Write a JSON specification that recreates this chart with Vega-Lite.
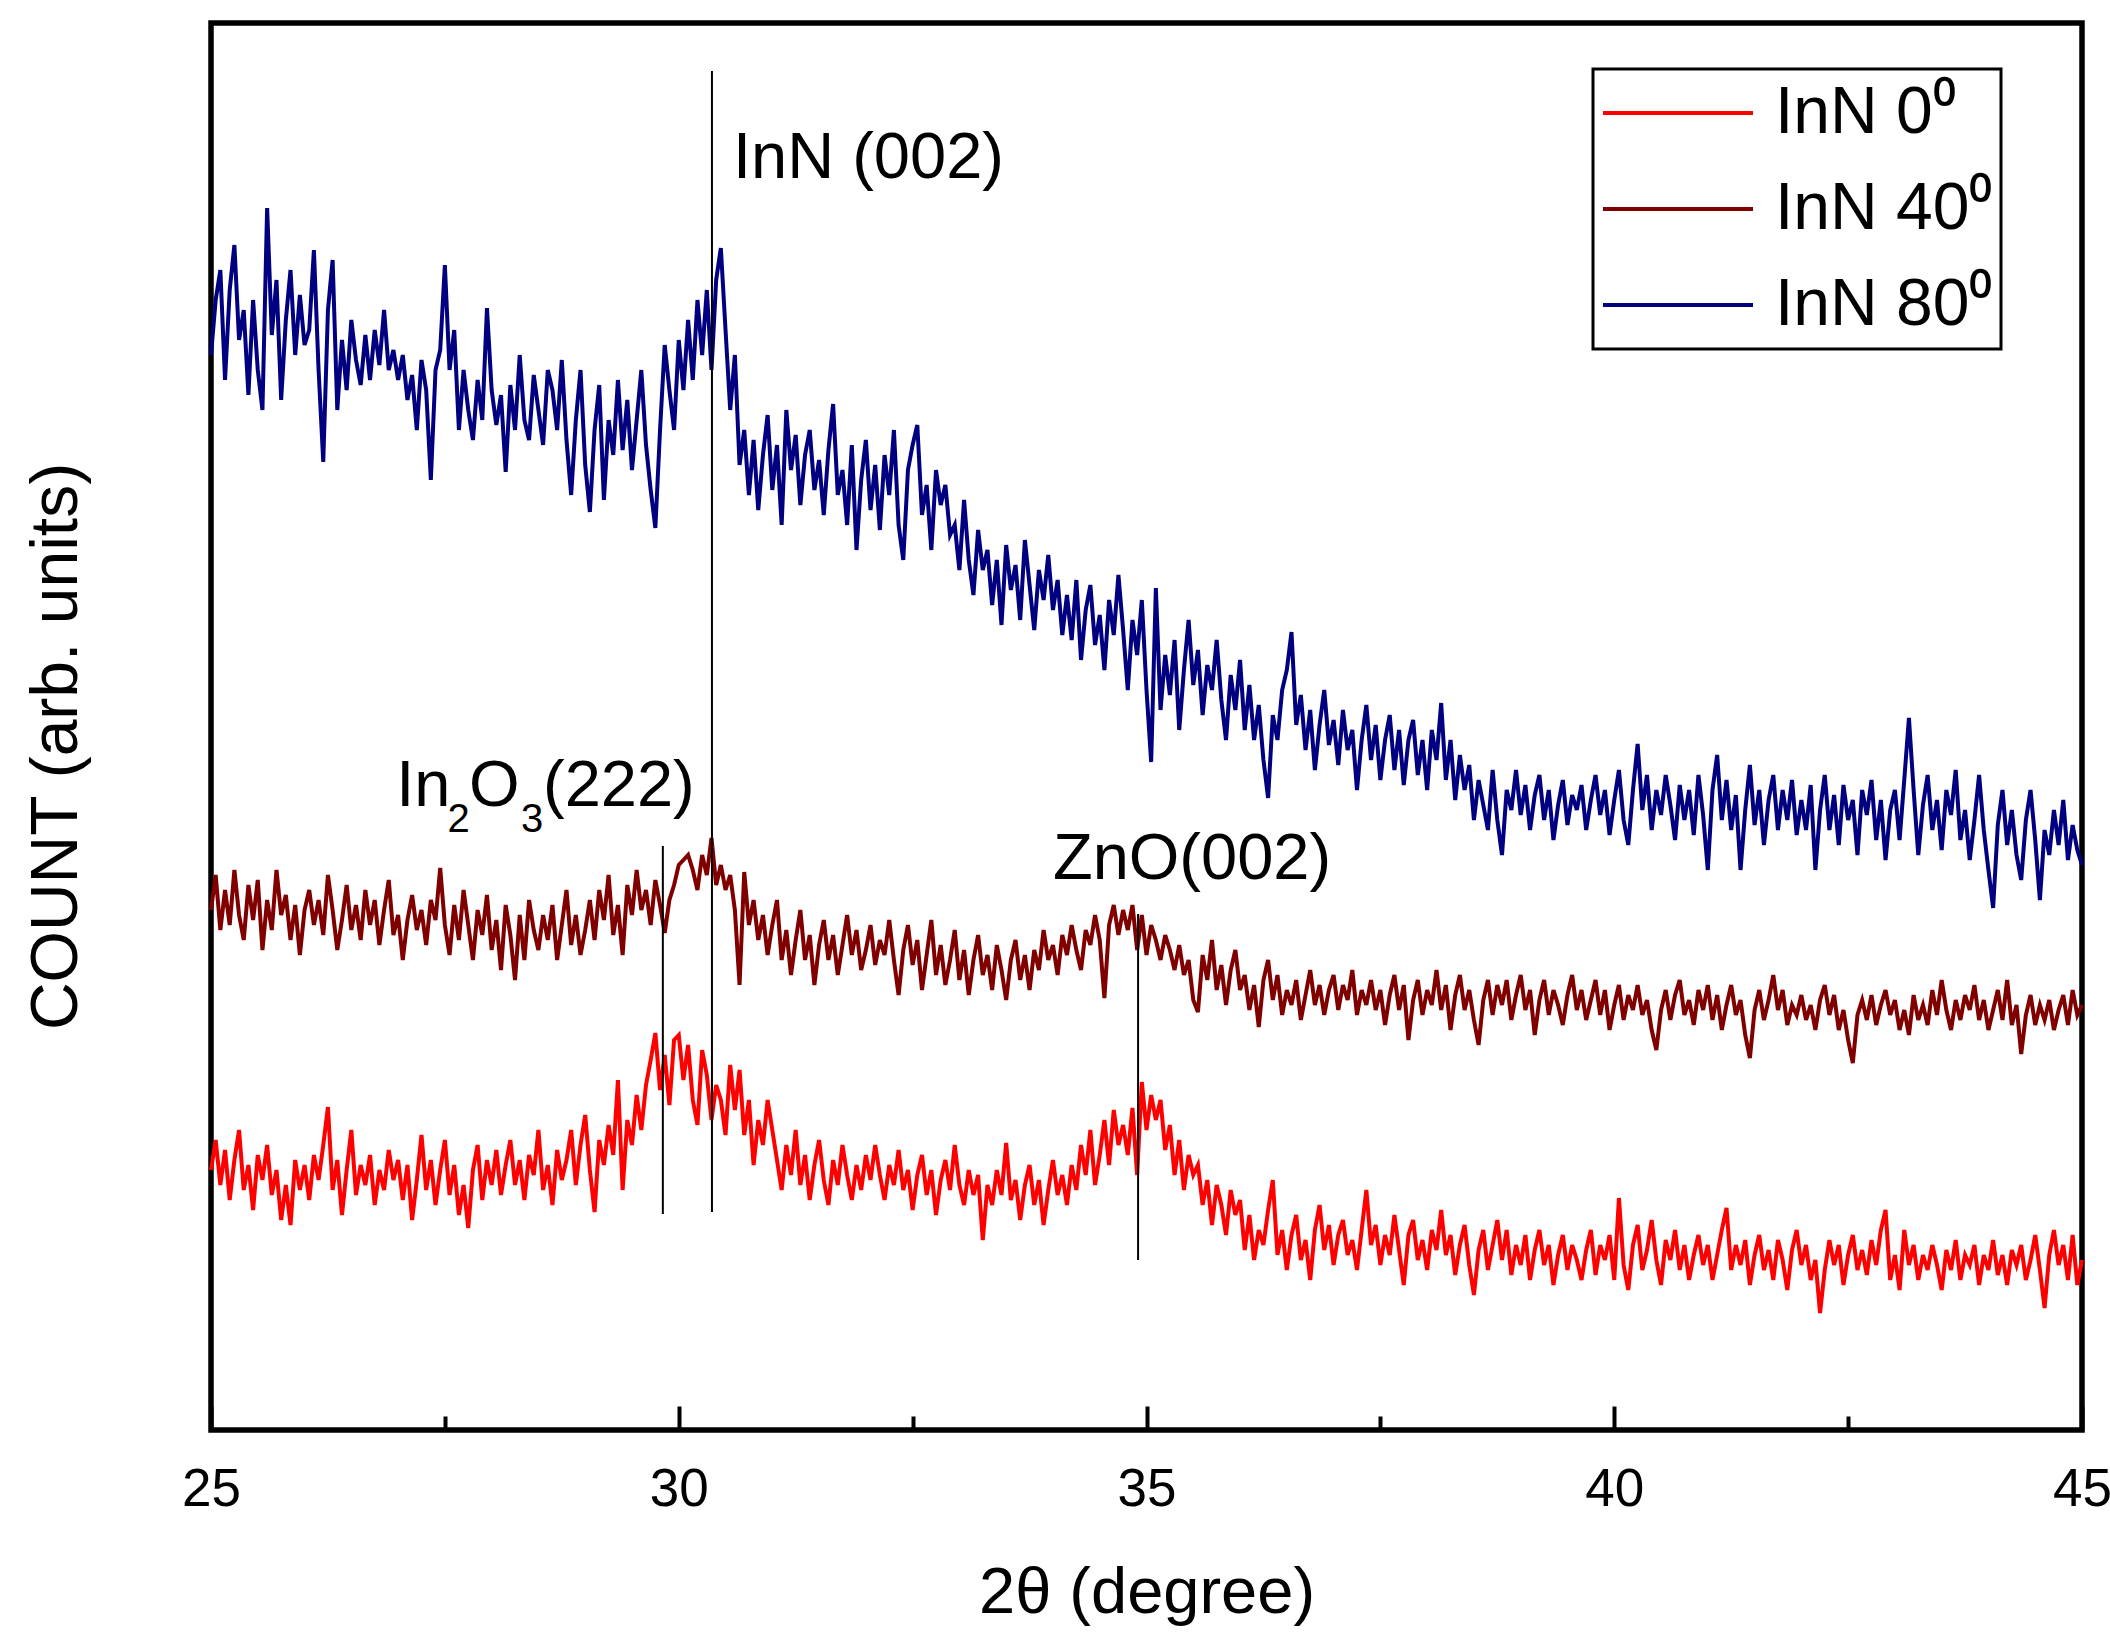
{
"$schema": "https://vega.github.io/schema/vega-lite/v6.json",
"width": 1871, "height": 1407,
"autosize": {"type": "none"},
"padding": {"left": 211, "top": 23, "right": 28, "bottom": 207},
"background": "white",
"config": {"view": {"stroke": "black", "strokeWidth": 5.5}, "font": "Liberation Sans"},
"datasets": {
"d80": [
{"x":25,"y":1075},{"x":25.05,"y":1130},{"x":25.1,"y":1160},{"x":25.15,"y":1050},{"x":25.2,"y":1140},{"x":25.25,"y":1185},{"x":25.3,"y":1090},{"x":25.35,"y":1120},{"x":25.4,"y":1035},{"x":25.45,"y":1130},{"x":25.5,"y":1060},{"x":25.55,"y":1020},{"x":25.6,"y":1222},{"x":25.65,"y":1095},{"x":25.7,"y":1150},{"x":25.75,"y":1030},{"x":25.8,"y":1110},{"x":25.85,"y":1160},{"x":25.9,"y":1075},{"x":25.95,"y":1135},{"x":26,"y":1085},
{"x":26.05,"y":1100},{"x":26.1,"y":1180},{"x":26.15,"y":1060},{"x":26.2,"y":968},{"x":26.25,"y":1120},{"x":26.3,"y":1170},{"x":26.35,"y":1020},{"x":26.4,"y":1090},{"x":26.45,"y":1040},{"x":26.5,"y":1110},{"x":26.55,"y":1070},{"x":26.6,"y":1045},{"x":26.65,"y":1095},{"x":26.7,"y":1050},{"x":26.75,"y":1100},{"x":26.8,"y":1065},{"x":26.85,"y":1120},{"x":26.9,"y":1060},{"x":26.95,"y":1080},{"x":27,"y":1050},
{"x":27.05,"y":1075},{"x":27.1,"y":1030},{"x":27.15,"y":1055},{"x":27.2,"y":1000},{"x":27.25,"y":1070},{"x":27.3,"y":1040},{"x":27.35,"y":950},{"x":27.4,"y":1060},{"x":27.45,"y":1080},{"x":27.5,"y":1165},{"x":27.55,"y":1060},{"x":27.6,"y":1100},
{"x":27.65,"y":1000},{"x":27.7,"y":1060},{"x":27.75,"y":1020},{"x":27.8,"y":990},{"x":27.85,"y":1050},{"x":27.9,"y":1010},{"x":27.95,"y":1122},{"x":28,"y":1040},{"x":28.05,"y":1005},{"x":28.1,"y":1035},{"x":28.15,"y":958},
{"x":28.2,"y":1045},{"x":28.25,"y":1000},{"x":28.3,"y":1075},{"x":28.35,"y":1010},{"x":28.4,"y":990},{"x":28.45,"y":1055},{"x":28.5,"y":1020},{"x":28.55,"y":985},{"x":28.6,"y":1060},{"x":28.65,"y":1040},{"x":28.7,"y":1000},{"x":28.75,"y":1070},{"x":28.8,"y":990},
{"x":28.85,"y":935},{"x":28.9,"y":1010},{"x":28.95,"y":1060},{"x":29,"y":965},{"x":29.05,"y":918},{"x":29.1,"y":1000},{"x":29.15,"y":1045},{"x":29.2,"y":930},{"x":29.25,"y":1010},{"x":29.3,"y":975},{"x":29.35,"y":1050},{"x":29.4,"y":980},
{"x":29.45,"y":1030},{"x":29.5,"y":960},{"x":29.55,"y":1010},{"x":29.6,"y":1060},{"x":29.65,"y":985},{"x":29.7,"y":940},{"x":29.75,"y":902},{"x":29.8,"y":1000},{"x":29.85,"y":1085},{"x":29.9,"y":1040},
{"x":29.95,"y":1000},{"x":30,"y":1090},{"x":30.05,"y":1040},{"x":30.1,"y":1110},{"x":30.15,"y":1050},{"x":30.2,"y":1130},{"x":30.25,"y":1075},{"x":30.3,"y":1140},{"x":30.35,"y":1060},
{"x":30.4,"y":1150},{"x":30.45,"y":1182},{"x":30.5,"y":1100},{"x":30.55,"y":1020},{"x":30.6,"y":1075},{"x":30.65,"y":965},{"x":30.7,"y":1000},{"x":30.75,"y":935},
{"x":30.8,"y":990},{"x":30.85,"y":920},{"x":30.9,"y":975},{"x":30.95,"y":1015},{"x":31,"y":940},{"x":31.05,"y":985},{"x":31.1,"y":905},{"x":31.15,"y":1020},{"x":31.2,"y":960},{"x":31.25,"y":995},{"x":31.3,"y":925},{"x":31.35,"y":975},{"x":31.4,"y":1000},{"x":31.45,"y":940},{"x":31.5,"y":970},
{"x":31.55,"y":915},{"x":31.6,"y":980},{"x":31.65,"y":1026},{"x":31.7,"y":935},{"x":31.75,"y":960},{"x":31.8,"y":905},{"x":31.85,"y":985},{"x":31.9,"y":880},{"x":31.95,"y":950},{"x":32,"y":990},{"x":32.05,"y":920},{"x":32.1,"y":965},{"x":32.15,"y":900},{"x":32.2,"y":975},{"x":32.25,"y":935},{"x":32.3,"y":1000},{"x":32.35,"y":905},{"x":32.4,"y":870},{"x":32.45,"y":960},{"x":32.5,"y":985},{"x":32.55,"y":1005},{"x":32.6,"y":915},{"x":32.65,"y":945},{"x":32.7,"y":880},{"x":32.75,"y":960},{"x":32.8,"y":925},{"x":32.85,"y":945},{"x":32.9,"y":895},
{"x":32.95,"y":905},{"x":33,"y":860},{"x":33.05,"y":930},{"x":33.1,"y":870},{"x":33.15,"y":835},{"x":33.2,"y":900},{"x":33.25,"y":860},{"x":33.3,"y":880},
{"x":33.35,"y":825},{"x":33.4,"y":870},{"x":33.45,"y":805},{"x":33.5,"y":885},{"x":33.55,"y":840},{"x":33.6,"y":865},{"x":33.65,"y":810},{"x":33.7,"y":890},{"x":33.75,"y":845},{"x":33.8,"y":800},{"x":33.85,"y":860},{"x":33.9,"y":830},{"x":33.95,"y":875},{"x":34,"y":820},{"x":34.05,"y":850},{"x":34.1,"y":795},
{"x":34.15,"y":835},{"x":34.2,"y":790},{"x":34.25,"y":850},{"x":34.3,"y":770},{"x":34.35,"y":820},{"x":34.4,"y":845},{"x":34.45,"y":785},{"x":34.5,"y":815},{"x":34.55,"y":760},{"x":34.6,"y":830},{"x":34.65,"y":795},{"x":34.7,"y":855},{"x":34.75,"y":800},{"x":34.8,"y":740},{"x":34.85,"y":810},{"x":34.9,"y":775},{"x":34.95,"y":830},
{"x":35,"y":740},{"x":35.05,"y":668},{"x":35.1,"y":842},{"x":35.15,"y":720},
{"x":35.2,"y":775},{"x":35.25,"y":735},{"x":35.3,"y":790},{"x":35.35,"y":700},{"x":35.4,"y":760},{"x":35.45,"y":810},{"x":35.5,"y":745},{"x":35.55,"y":780},{"x":35.6,"y":715},{"x":35.65,"y":765},{"x":35.7,"y":740},{"x":35.75,"y":790},{"x":35.8,"y":730},{"x":35.85,"y":690},{"x":35.9,"y":755},{"x":35.95,"y":720},{"x":36,"y":770},
{"x":36.05,"y":700},{"x":36.1,"y":745},{"x":36.15,"y":690},{"x":36.2,"y":725},{"x":36.25,"y":670},{"x":36.3,"y":632},{"x":36.35,"y":715},{"x":36.4,"y":690},{"x":36.45,"y":740},{"x":36.5,"y":760},{"x":36.55,"y":798},{"x":36.6,"y":705},{"x":36.65,"y":735},{"x":36.7,"y":680},{"x":36.75,"y":720},{"x":36.8,"y":660},{"x":36.85,"y":705},{"x":36.9,"y":740},{"x":36.95,"y":685},{"x":37,"y":710},
{"x":37.05,"y":665},{"x":37.1,"y":720},{"x":37.15,"y":680},{"x":37.2,"y":700},{"x":37.25,"y":640},{"x":37.3,"y":690},{"x":37.35,"y":725},{"x":37.4,"y":670},{"x":37.45,"y":705},{"x":37.5,"y":650},{"x":37.55,"y":690},{"x":37.6,"y":715},{"x":37.65,"y":660},{"x":37.7,"y":700},{"x":37.75,"y":645},{"x":37.8,"y":690},{"x":37.85,"y":710},{"x":37.9,"y":655},{"x":37.95,"y":690},{"x":38,"y":640},{"x":38.05,"y":700},{"x":38.1,"y":670},{"x":38.15,"y":727},{"x":38.2,"y":650},{"x":38.25,"y":690},{"x":38.3,"y":630},
{"x":38.35,"y":675},{"x":38.4,"y":640},{"x":38.45,"y":665},{"x":38.5,"y":610},{"x":38.55,"y":650},{"x":38.6,"y":625},{"x":38.65,"y":600},{"x":38.7,"y":660},{"x":38.75,"y":610},{"x":38.8,"y":575},{"x":38.85,"y":640},{"x":38.9,"y":620},{"x":38.95,"y":660},{"x":39,"y":615},{"x":39.05,"y":645},{"x":39.1,"y":600},{"x":39.15,"y":635},{"x":39.2,"y":655},{"x":39.25,"y":610},{"x":39.3,"y":640},{"x":39.35,"y":590},{"x":39.4,"y":625},{"x":39.45,"y":650},{"x":39.5,"y":605},{"x":39.55,"y":635},{"x":39.6,"y":620},
{"x":39.65,"y":645},{"x":39.7,"y":600},{"x":39.75,"y":630},{"x":39.8,"y":655},{"x":39.85,"y":615},{"x":39.9,"y":640},{"x":39.95,"y":595},{"x":40,"y":630},{"x":40.05,"y":660},{"x":40.1,"y":610},{"x":40.15,"y":585},{"x":40.2,"y":640},{"x":40.25,"y":686},{"x":40.3,"y":620},{"x":40.35,"y":655},{"x":40.4,"y":600},{"x":40.45,"y":640},{"x":40.5,"y":615},{"x":40.55,"y":655},{"x":40.6,"y":625},{"x":40.65,"y":590},{"x":40.7,"y":645},{"x":40.75,"y":610},{"x":40.8,"y":640},
{"x":40.85,"y":595},{"x":40.9,"y":655},{"x":40.95,"y":615},{"x":41,"y":560},{"x":41.05,"y":640},{"x":41.1,"y":675},{"x":41.15,"y":610},{"x":41.2,"y":650},{"x":41.25,"y":600},{"x":41.3,"y":635},{"x":41.35,"y":560},{"x":41.4,"y":620},{"x":41.45,"y":665},{"x":41.5,"y":605},{"x":41.55,"y":640},{"x":41.6,"y":585},{"x":41.65,"y":630},{"x":41.7,"y":655},{"x":41.75,"y":600},{"x":41.8,"y":640},{"x":41.85,"y":610},{"x":41.9,"y":650},{"x":41.95,"y":595},{"x":42,"y":630},
{"x":42.05,"y":600},{"x":42.1,"y":645},{"x":42.15,"y":560},{"x":42.2,"y":620},{"x":42.25,"y":655},{"x":42.3,"y":600},{"x":42.35,"y":635},{"x":42.4,"y":585},{"x":42.45,"y":645},{"x":42.5,"y":610},{"x":42.55,"y":630},{"x":42.6,"y":575},{"x":42.65,"y":640},{"x":42.7,"y":615},{"x":42.75,"y":650},{"x":42.8,"y":590},{"x":42.85,"y":630},{"x":42.9,"y":570},{"x":42.95,"y":620},
{"x":43,"y":640},{"x":43.05,"y":590},{"x":43.1,"y":650},{"x":43.15,"y":712},{"x":43.2,"y":640},{"x":43.25,"y":575},{"x":43.3,"y":625},
{"x":43.35,"y":655},{"x":43.4,"y":600},{"x":43.45,"y":630},{"x":43.5,"y":580},{"x":43.55,"y":640},{"x":43.6,"y":615},{"x":43.65,"y":660},{"x":43.7,"y":590},{"x":43.75,"y":620},{"x":43.8,"y":570},{"x":43.85,"y":610},{"x":43.9,"y":655},{"x":43.95,"y":600},{"x":44,"y":560},{"x":44.05,"y":522},{"x":44.1,"y":605},{"x":44.15,"y":640},
{"x":44.2,"y":585},{"x":44.25,"y":620},{"x":44.3,"y":575},{"x":44.35,"y":550},{"x":44.4,"y":610},{"x":44.45,"y":640},{"x":44.5,"y":590},{"x":44.55,"y":530},{"x":44.6,"y":600},{"x":44.65,"y":575},{"x":44.7,"y":620},{"x":44.75,"y":585},{"x":44.8,"y":630},{"x":44.85,"y":570},{"x":44.9,"y":605},{"x":44.95,"y":580},{"x":45,"y":565}
],
"d40": [
{"x":25,"y":520},{"x":25.05,"y":555},{"x":25.1,"y":500},{"x":25.15,"y":540},{"x":25.2,"y":505},{"x":25.25,"y":560},{"x":25.3,"y":515},{"x":25.35,"y":490},{"x":25.4,"y":545},{"x":25.45,"y":510},{"x":25.5,"y":550},{"x":25.55,"y":480},{"x":25.6,"y":530},{"x":25.65,"y":500},{"x":25.7,"y":560},{"x":25.75,"y":515},{"x":25.8,"y":535},{"x":25.85,"y":490},{"x":25.9,"y":525},{"x":25.95,"y":475},{"x":26,"y":520},
{"x":26.05,"y":540},{"x":26.1,"y":505},{"x":26.15,"y":530},{"x":26.2,"y":495},{"x":26.25,"y":555},{"x":26.3,"y":520},{"x":26.35,"y":480},{"x":26.4,"y":510},{"x":26.45,"y":545},{"x":26.5,"y":500},{"x":26.55,"y":525},{"x":26.6,"y":490},{"x":26.65,"y":540},{"x":26.7,"y":505},{"x":26.75,"y":530},{"x":26.8,"y":485},{"x":26.85,"y":520},{"x":26.9,"y":550},{"x":26.95,"y":495},{"x":27,"y":515},{"x":27.05,"y":470},{"x":27.1,"y":510},{"x":27.15,"y":535},{"x":27.2,"y":500},{"x":27.25,"y":520},{"x":27.3,"y":485},{"x":27.35,"y":530},{"x":27.4,"y":510},{"x":27.45,"y":562},{"x":27.5,"y":505},
{"x":27.55,"y":475},{"x":27.6,"y":525},{"x":27.65,"y":490},{"x":27.7,"y":540},{"x":27.75,"y":505},{"x":27.8,"y":470},{"x":27.85,"y":520},{"x":27.9,"y":495},{"x":27.95,"y":535},{"x":28,"y":480},{"x":28.05,"y":510},{"x":28.1,"y":460},{"x":28.15,"y":525},{"x":28.2,"y":495},{"x":28.25,"y":450},{"x":28.3,"y":515},{"x":28.35,"y":470},{"x":28.4,"y":530},{"x":28.45,"y":500},{"x":28.5,"y":480},{"x":28.55,"y":515},{"x":28.6,"y":490},{"x":28.65,"y":525},{"x":28.7,"y":470},{"x":28.75,"y":505},{"x":28.8,"y":540},{"x":28.85,"y":485},{"x":28.9,"y":515},{"x":28.95,"y":475},{"x":29,"y":500},
{"x":29.05,"y":530},{"x":29.1,"y":490},{"x":29.15,"y":540},{"x":29.2,"y":510},{"x":29.25,"y":555},{"x":29.3,"y":495},{"x":29.35,"y":525},{"x":29.4,"y":475},{"x":29.45,"y":545},{"x":29.5,"y":515},{"x":29.55,"y":560},{"x":29.6,"y":520},{"x":29.65,"y":540},{"x":29.7,"y":505},{"x":29.75,"y":550},{"x":29.8,"y":525},
{"x":29.85,"y":497},{"x":29.9,"y":530},{"x":29.95,"y":545},{"x":30,"y":565},{"x":30.05,"y":570},{"x":30.1,"y":575},{"x":30.15,"y":560},{"x":30.2,"y":540},{"x":30.25,"y":575},{"x":30.3,"y":555},{"x":30.35,"y":592},{"x":30.4,"y":545},{"x":30.45,"y":565},{"x":30.5,"y":540},
{"x":30.55,"y":555},{"x":30.6,"y":520},{"x":30.65,"y":445},{"x":30.7,"y":558},{"x":30.75,"y":505},{"x":30.8,"y":530},{"x":30.85,"y":490},{"x":30.9,"y":515},{"x":30.95,"y":475},{"x":31,"y":505},
{"x":31.05,"y":530},{"x":31.1,"y":470},{"x":31.15,"y":500},{"x":31.2,"y":455},{"x":31.25,"y":490},{"x":31.3,"y":520},{"x":31.35,"y":470},{"x":31.4,"y":495},{"x":31.45,"y":445},{"x":31.5,"y":485},{"x":31.55,"y":510},{"x":31.6,"y":470},{"x":31.65,"y":495},{"x":31.7,"y":455},{"x":31.75,"y":485},{"x":31.8,"y":515},{"x":31.85,"y":475},{"x":31.9,"y":500},{"x":31.95,"y":460},{"x":32,"y":480},{"x":32.05,"y":505},{"x":32.1,"y":465},{"x":32.15,"y":490},{"x":32.2,"y":475},{"x":32.25,"y":510},{"x":32.3,"y":470},
{"x":32.35,"y":435},{"x":32.4,"y":480},{"x":32.45,"y":505},{"x":32.5,"y":465},{"x":32.55,"y":490},{"x":32.6,"y":440},{"x":32.65,"y":475},{"x":32.7,"y":510},{"x":32.75,"y":455},{"x":32.8,"y":485},{"x":32.85,"y":445},{"x":32.9,"y":470},{"x":32.95,"y":500},{"x":33,"y":450},{"x":33.05,"y":480},{"x":33.1,"y":435},{"x":33.15,"y":470},{"x":33.2,"y":495},{"x":33.25,"y":455},{"x":33.3,"y":475},{"x":33.35,"y":440},{"x":33.4,"y":485},{"x":33.45,"y":460},{"x":33.5,"y":430},{"x":33.55,"y":470},{"x":33.6,"y":490},{"x":33.65,"y":450},{"x":33.7,"y":475},{"x":33.75,"y":440},{"x":33.8,"y":480},{"x":33.85,"y":460},{"x":33.9,"y":500},{"x":33.95,"y":470},{"x":34,"y":485},{"x":34.05,"y":455},{"x":34.1,"y":495},{"x":34.15,"y":475},{"x":34.2,"y":505},{"x":34.25,"y":480},{"x":34.3,"y":460},{"x":34.35,"y":500},{"x":34.4,"y":485},{"x":34.45,"y":515},{"x":34.5,"y":490},{"x":34.55,"y":432},{"x":34.6,"y":505},{"x":34.65,"y":525},{"x":34.7,"y":495},{"x":34.75,"y":520},{"x":34.8,"y":500},{"x":34.85,"y":525},
{"x":34.9,"y":480},{"x":34.95,"y":515},{"x":35,"y":475},{"x":35.05,"y":505},{"x":35.1,"y":490},{"x":35.15,"y":470},{"x":35.2,"y":495},{"x":35.25,"y":480},{"x":35.3,"y":460},
{"x":35.35,"y":485},{"x":35.4,"y":455},{"x":35.45,"y":470},{"x":35.5,"y":430},{"x":35.55,"y":418},{"x":35.6,"y":475},{"x":35.65,"y":450},{"x":35.7,"y":490},{"x":35.75,"y":440},{"x":35.8,"y":465},{"x":35.85,"y":425},{"x":35.9,"y":460},{"x":35.95,"y":480},{"x":36,"y":440},
{"x":36.05,"y":455},{"x":36.1,"y":420},{"x":36.15,"y":445},{"x":36.2,"y":403},{"x":36.25,"y":450},{"x":36.3,"y":470},{"x":36.35,"y":430},{"x":36.4,"y":455},{"x":36.45,"y":415},{"x":36.5,"y":440},{"x":36.55,"y":425},{"x":36.6,"y":450},{"x":36.65,"y":410},{"x":36.7,"y":435},{"x":36.75,"y":460},{"x":36.8,"y":425},{"x":36.85,"y":445},{"x":36.9,"y":415},{"x":36.95,"y":440},{"x":37,"y":455},{"x":37.05,"y":420},{"x":37.1,"y":445},{"x":37.15,"y":430},{"x":37.2,"y":460},{"x":37.25,"y":415},{"x":37.3,"y":440},{"x":37.35,"y":425},{"x":37.4,"y":450},{"x":37.45,"y":420},{"x":37.5,"y":440},{"x":37.55,"y":405},{"x":37.6,"y":435},{"x":37.65,"y":455},{"x":37.7,"y":420},{"x":37.75,"y":445},{"x":37.8,"y":390},{"x":37.85,"y":430},{"x":37.9,"y":450},{"x":37.95,"y":415},{"x":38,"y":440},{"x":38.05,"y":425},{"x":38.1,"y":460},{"x":38.15,"y":420},{"x":38.2,"y":445},{"x":38.25,"y":400},{"x":38.3,"y":435},{"x":38.35,"y":455},{"x":38.4,"y":420},{"x":38.45,"y":440},{"x":38.5,"y":410},{"x":38.55,"y":385},{"x":38.6,"y":430},{"x":38.65,"y":450},{"x":38.7,"y":415},{"x":38.75,"y":445},{"x":38.8,"y":425},
{"x":38.85,"y":450},{"x":38.9,"y":410},{"x":38.95,"y":435},{"x":39,"y":455},{"x":39.05,"y":420},{"x":39.1,"y":440},{"x":39.15,"y":395},{"x":39.2,"y":430},{"x":39.25,"y":450},{"x":39.3,"y":415},{"x":39.35,"y":440},{"x":39.4,"y":425},{"x":39.45,"y":405},{"x":39.5,"y":435},{"x":39.55,"y":455},{"x":39.6,"y":420},{"x":39.65,"y":440},{"x":39.7,"y":410},{"x":39.75,"y":430},{"x":39.8,"y":450},{"x":39.85,"y":415},{"x":39.9,"y":440},{"x":39.95,"y":400},{"x":40,"y":425},{"x":40.05,"y":445},{"x":40.1,"y":410},{"x":40.15,"y":435},{"x":40.2,"y":420},{"x":40.25,"y":445},{"x":40.3,"y":415},{"x":40.35,"y":430},{"x":40.4,"y":400},{"x":40.45,"y":380},{"x":40.5,"y":420},{"x":40.55,"y":440},{"x":40.6,"y":410},{"x":40.65,"y":435},{"x":40.7,"y":450},{"x":40.75,"y":415},{"x":40.8,"y":430},{"x":40.85,"y":405},{"x":40.9,"y":440},{"x":40.95,"y":420},{"x":41,"y":445},{"x":41.05,"y":410},{"x":41.1,"y":435},{"x":41.15,"y":400},{"x":41.2,"y":425},{"x":41.25,"y":445},{"x":41.3,"y":415},{"x":41.35,"y":430},{"x":41.4,"y":395},{"x":41.45,"y":372},{"x":41.5,"y":420},{"x":41.55,"y":440},{"x":41.6,"y":410},{"x":41.65,"y":430},{"x":41.7,"y":455},{"x":41.75,"y":420},{"x":41.8,"y":440},{"x":41.85,"y":405},{"x":41.9,"y":425},{"x":41.95,"y":415},{"x":42,"y":435},{"x":42.05,"y":410},{"x":42.1,"y":425},{"x":42.15,"y":400},{"x":42.2,"y":430},{"x":42.25,"y":445},{"x":42.3,"y":415},{"x":42.35,"y":435},{"x":42.4,"y":400},{"x":42.45,"y":420},{"x":42.5,"y":390},{"x":42.55,"y":367},{"x":42.6,"y":415},{"x":42.65,"y":430},{"x":42.7,"y":410},{"x":42.75,"y":435},{"x":42.8,"y":405},{"x":42.85,"y":425},{"x":42.9,"y":440},{"x":42.95,"y":415},{"x":43,"y":430},{"x":43.05,"y":400},{"x":43.1,"y":420},{"x":43.15,"y":395},{"x":43.2,"y":435},{"x":43.25,"y":410},{"x":43.3,"y":425},{"x":43.35,"y":405},{"x":43.4,"y":440},{"x":43.45,"y":415},{"x":43.5,"y":450},{"x":43.55,"y":420},{"x":43.6,"y":400},{"x":43.65,"y":430},{"x":43.7,"y":410},{"x":43.75,"y":435},{"x":43.8,"y":420},{"x":43.85,"y":445},{"x":43.9,"y":410},{"x":43.95,"y":430},{"x":44,"y":400},{"x":44.05,"y":420},{"x":44.1,"y":440},{"x":44.15,"y":410},{"x":44.2,"y":450},{"x":44.25,"y":405},{"x":44.3,"y":425},{"x":44.35,"y":376},{"x":44.4,"y":415},{"x":44.45,"y":435},{"x":44.5,"y":405},{"x":44.55,"y":425},{"x":44.6,"y":410},{"x":44.65,"y":430},{"x":44.7,"y":400},{"x":44.75,"y":420},{"x":44.8,"y":435},{"x":44.85,"y":405},{"x":44.9,"y":440},{"x":44.95,"y":415},{"x":45,"y":425}
],
"d0": [
{"x":25,"y":260},{"x":25.05,"y":290},{"x":25.1,"y":245},{"x":25.15,"y":280},{"x":25.2,"y":230},{"x":25.25,"y":270},{"x":25.3,"y":300},{"x":25.35,"y":240},{"x":25.4,"y":265},{"x":25.45,"y":220},{"x":25.5,"y":275},{"x":25.55,"y":250},{"x":25.6,"y":285},{"x":25.65,"y":235},{"x":25.7,"y":260},{"x":25.75,"y":210},{"x":25.8,"y":245},{"x":25.85,"y":205},{"x":25.9,"y":270},{"x":25.95,"y":240},{"x":26,"y":265},
{"x":26.05,"y":230},{"x":26.1,"y":275},{"x":26.15,"y":250},{"x":26.2,"y":285},{"x":26.25,"y":323},{"x":26.3,"y":240},{"x":26.35,"y":270},{"x":26.4,"y":215},{"x":26.45,"y":260},{"x":26.5,"y":300},{"x":26.55,"y":235},{"x":26.6,"y":265},{"x":26.65,"y":245},{"x":26.7,"y":275},{"x":26.75,"y":225},{"x":26.8,"y":260},{"x":26.85,"y":240},{"x":26.9,"y":280},{"x":26.95,"y":250},{"x":27,"y":270},
{"x":27.05,"y":230},{"x":27.1,"y":265},{"x":27.15,"y":210},{"x":27.2,"y":250},{"x":27.25,"y":295},{"x":27.3,"y":240},{"x":27.35,"y":270},{"x":27.4,"y":225},{"x":27.45,"y":260},{"x":27.5,"y":290},{"x":27.55,"y":235},{"x":27.6,"y":265},{"x":27.65,"y":215},{"x":27.7,"y":245},{"x":27.75,"y":202},{"x":27.8,"y":260},{"x":27.85,"y":285},{"x":27.9,"y":230},{"x":27.95,"y":270},{"x":28,"y":245},
{"x":28.05,"y":280},{"x":28.1,"y":235},{"x":28.15,"y":265},{"x":28.2,"y":290},{"x":28.25,"y":245},{"x":28.3,"y":270},{"x":28.35,"y":230},{"x":28.4,"y":275},{"x":28.45,"y":255},{"x":28.5,"y":300},{"x":28.55,"y":240},{"x":28.6,"y":265},{"x":28.65,"y":225},{"x":28.7,"y":280},{"x":28.75,"y":250},{"x":28.8,"y":270},
{"x":28.85,"y":300},{"x":28.9,"y":245},{"x":28.95,"y":285},{"x":29,"y":315},{"x":29.05,"y":260},{"x":29.1,"y":218},{"x":29.15,"y":290},{"x":29.2,"y":265},{"x":29.25,"y":305},{"x":29.3,"y":275},
{"x":29.35,"y":350},{"x":29.4,"y":240},{"x":29.45,"y":310},{"x":29.5,"y":285},{"x":29.55,"y":335},{"x":29.6,"y":300},
{"x":29.65,"y":345},{"x":29.7,"y":370},{"x":29.75,"y":397},{"x":29.8,"y":340},{"x":29.85,"y":375},{"x":29.9,"y":325},{"x":29.95,"y":390},{"x":30,"y":395},{"x":30.05,"y":350},{"x":30.1,"y":385},{"x":30.15,"y":330},{"x":30.2,"y":305},{"x":30.25,"y":380},{"x":30.3,"y":355},
{"x":30.35,"y":310},{"x":30.4,"y":345},{"x":30.45,"y":330},{"x":30.5,"y":295},{"x":30.55,"y":365},{"x":30.6,"y":320},
{"x":30.65,"y":360},{"x":30.7,"y":295},{"x":30.75,"y":330},{"x":30.8,"y":265},{"x":30.85,"y":310},{"x":30.9,"y":285},{"x":30.95,"y":330},{"x":31,"y":300},
{"x":31.05,"y":270},{"x":31.1,"y":240},{"x":31.15,"y":285},{"x":31.2,"y":255},{"x":31.25,"y":300},{"x":31.3,"y":245},{"x":31.35,"y":275},{"x":31.4,"y":230},{"x":31.45,"y":265},{"x":31.5,"y":290},{"x":31.55,"y":250},{"x":31.6,"y":225},{"x":31.65,"y":270},{"x":31.7,"y":245},{"x":31.75,"y":285},{"x":31.8,"y":255},{"x":31.85,"y":230},{"x":31.9,"y":265},{"x":31.95,"y":240},{"x":32,"y":275},{"x":32.05,"y":250},{"x":32.1,"y":285},{"x":32.15,"y":255},
{"x":32.2,"y":230},{"x":32.25,"y":265},{"x":32.3,"y":245},{"x":32.35,"y":280},{"x":32.4,"y":240},{"x":32.45,"y":260},{"x":32.5,"y":220},{"x":32.55,"y":255},{"x":32.6,"y":275},{"x":32.65,"y":235},{"x":32.7,"y":260},{"x":32.75,"y":215},{"x":32.8,"y":250},{"x":32.85,"y":270},{"x":32.9,"y":240},{"x":32.95,"y":285},{"x":33,"y":245},{"x":33.05,"y":225},{"x":33.1,"y":260},{"x":33.15,"y":235},{"x":33.2,"y":255},
{"x":33.25,"y":190},{"x":33.3,"y":245},{"x":33.35,"y":225},{"x":33.4,"y":260},{"x":33.45,"y":235},{"x":33.5,"y":287},{"x":33.55,"y":230},{"x":33.6,"y":250},{"x":33.65,"y":210},{"x":33.7,"y":245},{"x":33.75,"y":265},{"x":33.8,"y":225},{"x":33.85,"y":250},{"x":33.9,"y":205},{"x":33.95,"y":240},{"x":34,"y":270},{"x":34.05,"y":235},{"x":34.1,"y":255},{"x":34.15,"y":225},{"x":34.2,"y":265},
{"x":34.25,"y":240},{"x":34.3,"y":285},{"x":34.35,"y":255},{"x":34.4,"y":300},{"x":34.45,"y":245},{"x":34.5,"y":275},{"x":34.55,"y":310},{"x":34.6,"y":265},
{"x":34.65,"y":320},{"x":34.7,"y":285},{"x":34.75,"y":305},{"x":34.8,"y":275},{"x":34.85,"y":322},{"x":34.9,"y":255},
{"x":34.95,"y":348},{"x":35,"y":300},{"x":35.05,"y":335},{"x":35.1,"y":310},{"x":35.15,"y":330},{"x":35.2,"y":280},
{"x":35.25,"y":305},{"x":35.3,"y":255},{"x":35.35,"y":290},{"x":35.4,"y":240},{"x":35.45,"y":275},{"x":35.5,"y":255},
{"x":35.55,"y":265},{"x":35.6,"y":225},{"x":35.65,"y":250},{"x":35.7,"y":205},{"x":35.75,"y":245},{"x":35.8,"y":225},{"x":35.85,"y":195},{"x":35.9,"y":240},{"x":35.95,"y":215},{"x":36,"y":230},
{"x":36.05,"y":180},{"x":36.1,"y":215},{"x":36.15,"y":170},{"x":36.2,"y":200},{"x":36.25,"y":185},{"x":36.3,"y":220},{"x":36.35,"y":250},{"x":36.4,"y":175},{"x":36.45,"y":200},{"x":36.5,"y":160},{"x":36.55,"y":195},{"x":36.6,"y":215},{"x":36.65,"y":170},{"x":36.7,"y":190},{"x":36.75,"y":150},{"x":36.8,"y":200},{"x":36.85,"y":225},{"x":36.9,"y":180},{"x":36.95,"y":205},{"x":37,"y":165},{"x":37.05,"y":195},{"x":37.1,"y":210},{"x":37.15,"y":175},{"x":37.2,"y":190},{"x":37.25,"y":160},{"x":37.3,"y":200},{"x":37.35,"y":240},{"x":37.4,"y":185},{"x":37.45,"y":205},{"x":37.5,"y":165},{"x":37.55,"y":195},{"x":37.6,"y":175},{"x":37.65,"y":215},{"x":37.7,"y":180},{"x":37.75,"y":145},{"x":37.8,"y":195},{"x":37.85,"y":210},{"x":37.9,"y":170},{"x":37.95,"y":190},{"x":38,"y":160},{"x":38.05,"y":200},{"x":38.1,"y":180},{"x":38.15,"y":220},{"x":38.2,"y":175},{"x":38.25,"y":195},{"x":38.3,"y":155},{"x":38.35,"y":185},{"x":38.4,"y":205},{"x":38.45,"y":165},{"x":38.5,"y":135},{"x":38.55,"y":180},{"x":38.6,"y":200},{"x":38.65,"y":160},{"x":38.7,"y":185},{"x":38.75,"y":210},{"x":38.8,"y":170},
{"x":38.85,"y":200},{"x":38.9,"y":155},{"x":38.95,"y":185},{"x":39,"y":165},{"x":39.05,"y":195},{"x":39.1,"y":150},{"x":39.15,"y":180},{"x":39.2,"y":200},{"x":39.25,"y":165},{"x":39.3,"y":185},{"x":39.35,"y":145},{"x":39.4,"y":175},{"x":39.45,"y":195},{"x":39.5,"y":160},{"x":39.55,"y":185},{"x":39.6,"y":170},{"x":39.65,"y":150},{"x":39.7,"y":180},{"x":39.75,"y":200},{"x":39.8,"y":155},{"x":39.85,"y":185},{"x":39.9,"y":170},{"x":39.95,"y":195},{"x":40,"y":150},{"x":40.05,"y":232},{"x":40.1,"y":165},{"x":40.15,"y":140},{"x":40.2,"y":185},{"x":40.25,"y":205},{"x":40.3,"y":160},{"x":40.35,"y":180},{"x":40.4,"y":210},{"x":40.45,"y":170},{"x":40.5,"y":145},{"x":40.55,"y":190},{"x":40.6,"y":170},{"x":40.65,"y":200},{"x":40.7,"y":160},{"x":40.75,"y":185},{"x":40.8,"y":150},{"x":40.85,"y":175},{"x":40.9,"y":195},{"x":40.95,"y":165},{"x":41,"y":185},{"x":41.05,"y":150},{"x":41.1,"y":175},{"x":41.15,"y":200},{"x":41.2,"y":222},{"x":41.25,"y":160},{"x":41.3,"y":185},{"x":41.35,"y":165},{"x":41.4,"y":190},{"x":41.45,"y":145},{"x":41.5,"y":175},{"x":41.55,"y":195},{"x":41.6,"y":160},{"x":41.65,"y":180},{"x":41.7,"y":150},{"x":41.75,"y":190},{"x":41.8,"y":170},{"x":41.85,"y":140},{"x":41.9,"y":180},{"x":41.95,"y":200},{"x":42,"y":165},{"x":42.05,"y":185},{"x":42.1,"y":150},{"x":42.15,"y":170},{"x":42.2,"y":117},{"x":42.25,"y":160},{"x":42.3,"y":190},{"x":42.35,"y":165},{"x":42.4,"y":185},{"x":42.45,"y":145},{"x":42.5,"y":175},{"x":42.55,"y":195},{"x":42.6,"y":160},{"x":42.65,"y":180},{"x":42.7,"y":155},{"x":42.75,"y":190},{"x":42.8,"y":165},{"x":42.85,"y":200},{"x":42.9,"y":220},{"x":42.95,"y":150},{"x":43,"y":175},{"x":43.05,"y":140},{"x":43.1,"y":200},{"x":43.15,"y":165},{"x":43.2,"y":185},{"x":43.25,"y":150},{"x":43.3,"y":175},{"x":43.35,"y":160},{"x":43.4,"y":185},{"x":43.45,"y":165},{"x":43.5,"y":140},{"x":43.55,"y":180},{"x":43.6,"y":160},{"x":43.65,"y":190},{"x":43.7,"y":150},{"x":43.75,"y":175},{"x":43.8,"y":165},{"x":43.85,"y":185},{"x":43.9,"y":145},{"x":43.95,"y":175},{"x":44,"y":160},{"x":44.05,"y":190},{"x":44.1,"y":155},{"x":44.15,"y":175},{"x":44.2,"y":145},{"x":44.25,"y":180},{"x":44.3,"y":165},{"x":44.35,"y":185},{"x":44.4,"y":150},{"x":44.45,"y":170},{"x":44.5,"y":195},{"x":44.55,"y":160},{"x":44.6,"y":122},{"x":44.65,"y":175},{"x":44.7,"y":200},{"x":44.75,"y":165},{"x":44.8,"y":185},{"x":44.85,"y":150},{"x":44.9,"y":195},{"x":44.95,"y":145},{"x":45,"y":170}
],
"peaks": [
{"x":30.355,"y":1359,"y2":218},
{"x":29.83,"y":584,"y2":216},
{"x":34.91,"y":516,"y2":170}
],
"labels": [
{"t":"InN (002)","x":30.58,"y":1252},
{"t":"ZnO(002)","x":34.0,"y":551},
{"t":"In","x":26.98,"y":624},
{"t":"O","x":27.758,"y":624},
{"t":"(222)","x":28.549,"y":624}
],
"subs": [
{"t":"2","x":27.527,"y":598},
{"t":"3","x":28.314,"y":598}
]
},
"encoding": {
"x": {"field": "x", "type": "quantitative",
 "scale": {"domain": [25, 45], "nice": false, "zero": false},
 "axis": {"title": "2θ (degree)", "values": [25, 27.5, 30, 32.5, 35, 37.5, 40, 42.5, 45],
  "domain": false, "grid": false, "ticks": true, "tickColor": "black", "tickWidth": 4,
  "tickSize": {"condition": {"test": "datum.value % 5 === 0", "value": -24}, "value": -14},
  "labelExpr": "datum.value % 5 === 0 ? datum.label : ''",
  "labelFontSize": 53, "labelColor": "black", "labelFont": "Liberation Sans", "labelPadding": 57,
  "labelFlush": false, "labelOverlap": false, "labelBound": false,
  "titleFontSize": 65, "titleFontWeight": "normal", "titleColor": "black", "titleFont": "Liberation Sans",
  "titleBaseline": "alphabetic", "titleY": 182}},
"y": {"field": "y", "type": "quantitative",
 "scale": {"domain": [0, 1407], "nice": false, "zero": false},
 "axis": {"title": "COUNT (arb. units)", "ticks": false, "labels": false, "domain": false, "grid": false,
  "titleFontSize": 66, "titleFontWeight": "normal", "titleColor": "black", "titleFont": "Liberation Sans",
  "titleX": -135, "titleY": 723, "titleBaseline": "alphabetic", "titleAlign": "center", "titleAngle": 270}}
},
"layer": [
{"data": {"name": "d0"}, "mark": {"type": "line", "strokeWidth": 4},
 "encoding": {"color": {"datum": "0", "type": "nominal",
  "scale": {"domain": ["0", "40", "80"], "range": ["#ff0000", "#800000", "#000080"]},
  "legend": {"orient": "none", "legendX": 1382, "legendY": 46, "title": null,
   "symbolType": "stroke", "symbolSize": 22500, "symbolStrokeWidth": 4, "clipHeight": 72,
   "rowPadding": 24, "padding": 8, "symbolOffset": 0, "labelOffset": 20,
   "labelFontSize": 66, "labelFont": "Liberation Sans", "labelColor": "black", "labelLimit": 500,
   "strokeColor": "black", "fillColor": "white",
   "encode": {"legend": {"update": {"strokeWidth": {"value": 3}}}},
   "labelExpr": "'InN ' + datum.label + '⁰'"}}}},
{"data": {"name": "d40"}, "mark": {"type": "line", "strokeWidth": 4},
 "encoding": {"color": {"datum": "40", "type": "nominal"}}},
{"data": {"name": "d80"}, "mark": {"type": "line", "strokeWidth": 4},
 "encoding": {"color": {"datum": "80", "type": "nominal"}}},
{"data": {"name": "peaks"}, "mark": {"type": "rule", "color": "black", "strokeWidth": 2},
 "encoding": {"y2": {"field": "y2"}}},
{"data": {"name": "labels"}, "mark": {"type": "text", "fontSize": 65, "align": "left", "baseline": "alphabetic", "font": "Liberation Sans", "color": "black"},
 "encoding": {"text": {"field": "t"}}},
{"data": {"name": "subs"}, "mark": {"type": "text", "fontSize": 40, "align": "left", "baseline": "alphabetic", "font": "Liberation Sans", "color": "black"},
 "encoding": {"text": {"field": "t"}}}
]
}
